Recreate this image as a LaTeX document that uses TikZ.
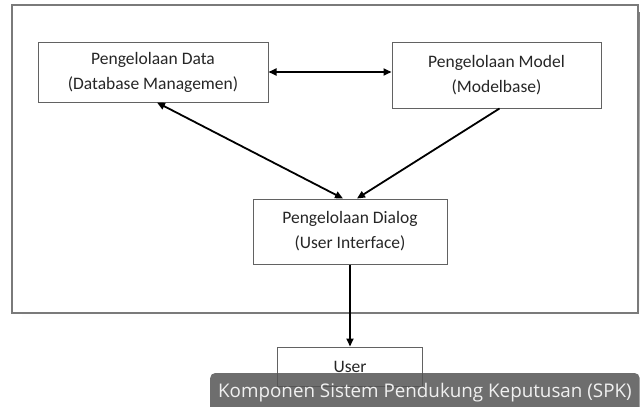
\documentclass[tikz,border=0pt]{standalone}
\usepackage{fontspec}
\setmainfont{Carlito}
\newfontfamily\capfont{Open Sans}
\usetikzlibrary{arrows.meta, positioning}
\definecolor{frameline}{HTML}{7A7A7A}
\definecolor{boxline}{HTML}{626262}
\definecolor{shade}{HTML}{ABABAB}
\definecolor{capfill}{HTML}{555555}

\begin{document}
\begin{tikzpicture}[
  x=1pt, y=-1pt,
  box/.style={draw=boxline, line width=1pt, align=center, inner sep=0pt,
              font=\fontsize{17.5}{25}\selectfont, text=black!85},
  arr/.style={-{Triangle[length=8pt, width=7pt]}, line width=1.8pt},
  darr/.style={{Triangle[length=8pt, width=7pt]}-{Triangle[length=8pt, width=7pt]}, line width=1.8pt},
  capbox/.style={fill=capfill, fill opacity=0.85, text opacity=1, text=white!94!black,
                 rounded corners=5pt, inner xsep=8pt, minimum height=40pt,
                 font=\capfont\fontsize{18.8}{21}\selectfont},
]
  \useasboundingbox (0,0) rectangle (640,407);

  % Frame and its shadow
  \fill[shade] (22,12) rectangle (648,320);
  \draw[frameline, fill=white, line width=1.5pt] (12,5) rectangle (638,313);

  % Components
  \node[box, minimum width=230pt, minimum height=60pt] (data) at (153,72) {Pengelolaan Data\\(Database Managemen)};
  \node[box, minimum width=209pt, minimum height=66pt] (model) at (496.5,75) {Pengelolaan Model\\(Modelbase)};
  \node[box, minimum width=194pt, minimum height=65pt] (dialog) at (350,231.5) {Pengelolaan Dialog\\(User Interface)};
  \node[box, minimum width=145pt, minimum height=39pt, below=82pt of dialog] (user) {User};

  % Arrows
  \draw[darr] (data.east) -- (data.east -| model.west);
  \draw[darr] ([xshift=4pt]data.south) -- ([xshift=-7pt]dialog.north);
  \draw[arr] ([xshift=3pt]model.south) -- ([xshift=7pt]dialog.north);
  \draw[arr] (dialog.south) -- (user.north);

  % Caption
  \node[capbox, anchor=west] (caption) at (210,393) {Komponen Sistem Pendukung Keputusan (SPK)};
\end{tikzpicture}
\end{document}
